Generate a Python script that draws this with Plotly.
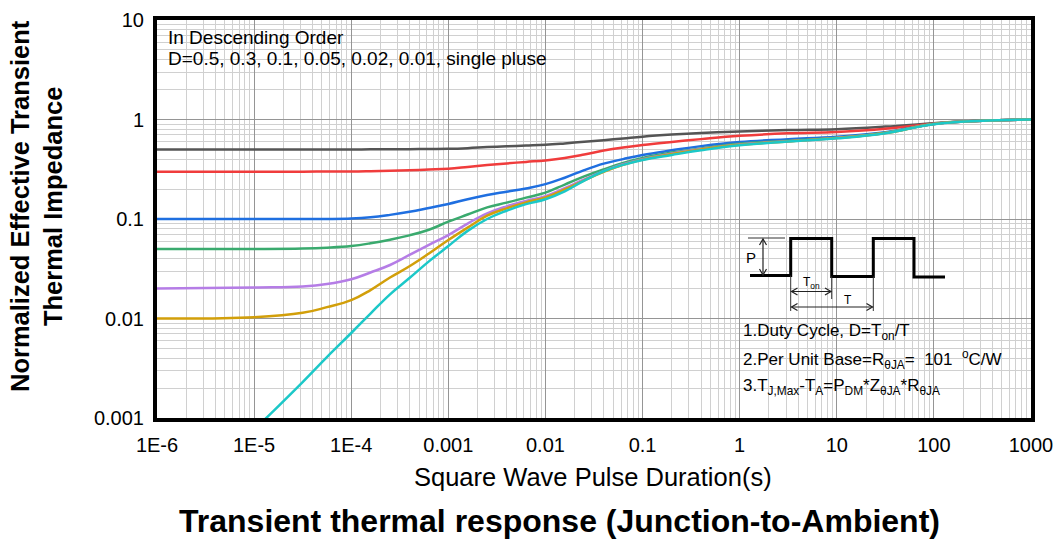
import plotly.graph_objects as go

# ---------------- data ----------------
t_common = [1e-6, 1e-5, 3.16e-5, 5.62e-5, 1e-4, 1.58e-4, 2.51e-4, 3.98e-4, 6.31e-4,
            1e-3, 1.58e-3, 2.51e-3, 3.98e-3, 6.31e-3, 1e-2, 1.58e-2, 2.51e-2, 3.98e-2, 6.31e-2,
            0.1, 0.2, 0.4, 1, 3.16, 10, 31.6, 100, 316, 1000]
z_d05 = [0.5, 0.5, 0.5, 0.5, 0.5, 0.501, 0.502, 0.503, 0.505,
         0.507, 0.515, 0.528, 0.538, 0.547, 0.557, 0.575, 0.597, 0.62, 0.645,
         0.672, 0.705, 0.732, 0.758, 0.785, 0.80, 0.848, 0.918, 0.975, 1.0]
z_d03 = [0.298, 0.298, 0.299, 0.30, 0.30, 0.302, 0.305, 0.309, 0.314,
         0.32, 0.333, 0.348, 0.362, 0.375, 0.388, 0.41, 0.445, 0.488, 0.524,
         0.554, 0.595, 0.635, 0.685, 0.727, 0.75, 0.805, 0.908, 0.97, 1.0]
z_d01 = [0.1, 0.1, 0.1, 0.1, 0.101, 0.104, 0.11, 0.118, 0.129,
         0.1415, 0.158, 0.174, 0.188, 0.203, 0.224, 0.26, 0.31, 0.36, 0.40,
         0.44, 0.49, 0.54, 0.594, 0.633, 0.672, 0.745, 0.902, 0.97, 1.0]
z_d005 = [0.05, 0.05, 0.0505, 0.0515, 0.0535, 0.057, 0.062, 0.0685, 0.078,
          0.094, 0.111, 0.131, 0.146, 0.164, 0.184, 0.222, 0.268, 0.315, 0.365,
          0.41, 0.465, 0.51, 0.57, 0.612, 0.657, 0.735, 0.902, 0.97, 1.0]
z_d002 = [0.02, 0.0205, 0.021, 0.0222, 0.0248, 0.029, 0.0345, 0.0435, 0.055,
          0.069, 0.09, 0.114, 0.134, 0.152, 0.170, 0.204, 0.25, 0.302, 0.355,
          0.40, 0.455, 0.505, 0.562, 0.605, 0.652, 0.733, 0.90, 0.97, 1.0]
z_d001 = [0.01, 0.0103, 0.0114, 0.013, 0.0153, 0.0193, 0.0258, 0.0335, 0.045,
          0.0615, 0.082, 0.108, 0.128, 0.147, 0.165, 0.198, 0.245, 0.298, 0.35,
          0.395, 0.45, 0.50, 0.557, 0.602, 0.65, 0.73, 0.90, 0.97, 1.0]
t_single = [1e-5, 3.16e-5, 5.62e-5, 1e-4, 1.58e-4, 2.51e-4, 3.98e-4, 6.31e-4,
            1e-3, 1.58e-3, 2.51e-3, 3.98e-3, 6.31e-3, 1e-2, 1.58e-2, 2.51e-2, 3.98e-2, 6.31e-2,
            0.1, 0.2, 0.4, 1, 3.16, 10, 31.6, 100, 316, 1000]
z_single = [0.00076, 0.0023, 0.0041, 0.00715, 0.0112, 0.0175, 0.0255, 0.0375,
            0.0535, 0.076, 0.10, 0.121, 0.141, 0.158, 0.19, 0.243, 0.302, 0.35,
            0.392, 0.44, 0.49, 0.55, 0.60, 0.647, 0.728, 0.898, 0.97, 1.0]

series_names = ["D=0.5", "D=0.3", "D=0.1", "D=0.05", "D=0.02", "D=0.01", "single pulse"]
series_colors = ["#555555", "#f03c3c", "#1f6fe0", "#3aaa6e", "#b57de6", "#d29f0a", "#1cc8c8"]

x_tickvals = [1e-6, 1e-5, 1e-4, 1e-3, 1e-2, 1e-1, 1, 10, 100, 1000]
x_ticktext = ["1E-6", "1E-5", "1E-4", "0.001", "0.01", "0.1", "1", "10", "100", "1000"]
y_tickvals = [0.001, 0.01, 0.1, 1, 10]
y_ticktext = ["0.001", "0.01", "0.1", "1", "10"]

# ---------------- layout helpers (pixel -> paper) ----------------
L, R, T, B = 157, 1031, 20, 418
def px(x):
    return (x - L) / (R - L)
def py(y):
    return (B - y) / (B - T)

minor_x = [m * 10.0 ** e for e in range(-6, 3) for m in range(2, 10)]
minor_y = [m * 10.0 ** e for e in range(-3, 1) for m in range(2, 10)]

FONT = "Arial, Liberation Sans, sans-serif"

fig = go.Figure()
all_t = [t_common] * 6 + [t_single]
all_z = [z_d05, z_d03, z_d01, z_d005, z_d002, z_d001, z_single]
for name, tv, zv, col in zip(series_names, all_t, all_z, series_colors):
    fig.add_trace(go.Scatter(x=tv, y=zv, mode="lines", name=name,
                             line=dict(color=col, width=2.5, shape="spline", smoothing=1.2),
                             hoverinfo="skip", showlegend=False))

fig.update_layout(
    width=1057, height=540,
    margin=dict(l=L, r=1057 - R, t=T, b=540 - B, autoexpand=False),
    paper_bgcolor="white", plot_bgcolor="white",
    showlegend=False,
    font=dict(family=FONT, color="black"),
)
axis_common = dict(showgrid=True, gridcolor="#959595", gridwidth=1,
                   showline=True, linewidth=4, linecolor="black", mirror=True,
                   ticks="", zeroline=False, automargin=False)
fig.update_xaxes(type="log", range=[-6, 3], tickmode="array", tickvals=x_tickvals,
                 ticktext=x_ticktext, tickfont=dict(size=20, family=FONT),
                 ticklabelstandoff=6,
                 minor=dict(tickmode="array", tickvals=minor_x, showgrid=True,
                            gridcolor="#d0d0d0", gridwidth=1, ticks=""),
                 **axis_common)
fig.update_yaxes(type="log", range=[-3, 1], tickmode="array", tickvals=y_tickvals,
                 ticktext=y_ticktext, tickfont=dict(size=20, family=FONT),
                 ticklabelstandoff=5,
                 minor=dict(tickmode="array", tickvals=minor_y, showgrid=True,
                            gridcolor="#d0d0d0", gridwidth=1, ticks=""),
                 **axis_common)

shapes = []
# white boxes (legend text and inset)
shapes.append(dict(type="rect", xref="paper", yref="paper", x0=px(157), x1=px(552),
                   y0=py(72), y1=py(20), fillcolor="white", line=dict(width=0), layer="between"))
shapes.append(dict(type="rect", xref="paper", yref="paper", x0=px(742), x1=px(947),
                   y0=py(313), y1=py(225), fillcolor="white", line=dict(width=0), layer="between"))
shapes.append(dict(type="rect", xref="paper", yref="paper", x0=px(740), x1=px(1015),
                   y0=py(400), y1=py(313), fillcolor="white", line=dict(width=0), layer="between"))

def add_path(points, color, width):
    p = "M " + " L ".join(f"{px(a):.5f},{py(b):.5f}" for a, b in points)
    shapes.append(dict(type="path", xref="paper", yref="paper", path=p,
                       line=dict(color=color, width=width), layer="above"))

# inset square-wave
low, high = 275.5, 238.5
add_path([(750, low), (790.7, low), (790.7, high), (831.7, high), (831.7, low + 1),
          (873.3, low + 1), (873.3, high), (914, high), (914, low + 1.5), (945, low + 1.5)],
         "black", 3)
thin_col = "#333333"
for seg in [[(748, 238), (785, 238)], [(790.7, low), (790.7, 311)],
            [(831.7, low + 1), (831.7, 299)], [(873.3, low + 1), (873.3, 311)]]:
    add_path(seg, thin_col, 1)

def harrow(x0, x1, y, h=6, w=3.5):
    add_path([(x0, y), (x1, y)], "#222222", 1.2)
    add_path([(x0 + h, y - w), (x0, y), (x0 + h, y + w)], "#222222", 1.2)
    add_path([(x1 - h, y - w), (x1, y), (x1 - h, y + w)], "#222222", 1.2)

def varrow(x, y0, y1, h=6, w=3.5):
    add_path([(x, y0), (x, y1)], "#222222", 1.2)
    add_path([(x - w, y0 + h), (x, y0), (x + w, y0 + h)], "#222222", 1.2)
    add_path([(x - w, y1 - h), (x, y1), (x + w, y1 - h)], "#222222", 1.2)

varrow(763, 239, low - 0.5)
harrow(791.5, 831, 291.5)
harrow(791.5, 872.5, 307)
fig.update_layout(shapes=shapes)

ann = []
def text(x, y, s, size, xanchor="left", color="black", bold=False):
    ann.append(dict(xref="paper", yref="paper", x=px(x), y=py(y), text=s, showarrow=False,
                    xanchor=xanchor, yanchor="middle",
                    font=dict(size=size, family=FONT, color=color,
                              weight="bold" if bold else "normal")))

text(758, 257, "P", 15, xanchor="right")
text(811, 283, "T<sub>on</sub>", 12, xanchor="center")
text(848, 300, "T", 12, xanchor="center")

text(166, 37, "In Descending Order", 19)
text(166, 58.5, "D=0.5, 0.3, 0.1, 0.05, 0.02, 0.01, single pluse", 19)

text(741, 332, "1.Duty Cycle, D=T<sub>on</sub>/T", 17)
text(741, 359, "2.Per Unit Base=R<sub>θJA</sub>=\u00a0\u00a0101\u00a0\u00a0<sup>o</sup>C/W", 17)
text(741, 387, "3.T<sub>J,Max</sub>-T<sub>A</sub>=P<sub>DM</sub>*Z<sub>θJA</sub>*R<sub>θJA</sub>", 17)

# axis titles and chart title
text(593, 477, "Square Wave Pulse Duration(s)", 25.5, xanchor="center")
text(559, 521, "Transient thermal response (Junction-to-Ambient)", 32, xanchor="center", bold=True)
ann.append(dict(xref="paper", yref="paper", x=px(36), y=py(206), showarrow=False,
                text="Normalized Effective Transient<br>Thermal Impedance", textangle=-90,
                xanchor="center", yanchor="middle",
                font=dict(size=25.5, family=FONT, color="black", weight="bold")))
fig.update_layout(annotations=ann)

fig.write_html("out.html", config={"displayModeBar": False})
